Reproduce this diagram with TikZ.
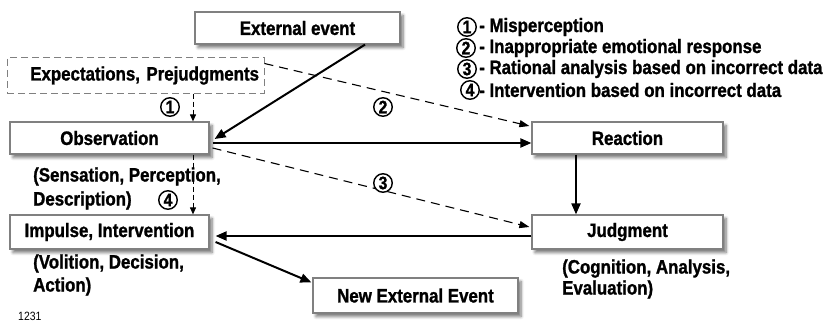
\documentclass[tikz,border=0pt]{standalone}
\usepackage{fontspec}
\setmainfont{Liberation Sans}[FakeStretch=0.87, BoldFeatures={FakeBold=1.2}]
\usetikzlibrary{arrows.meta,shadows.blur}
\definecolor{bordergray}{RGB}{128,128,128}
\begin{document}
\begin{tikzpicture}[x=1pt,y=-1pt,
  box/.style={draw=bordergray, line width=1.2pt, fill=white, inner sep=0pt,
    blur shadow={shadow xshift=3pt, shadow yshift=-3.5pt, shadow blur radius=3pt, shadow blur steps=6, shadow opacity=55},
    font=\fontsize{19.4}{22}\selectfont\bfseries},
  dashbox/.style={draw=bordergray, line width=1pt, dash pattern=on 7pt off 4pt, inner sep=5pt,
    font=\fontsize{19.4}{22}\selectfont\bfseries},
  lbl/.style={font=\fontsize{19.4}{22}\selectfont\bfseries, inner sep=0pt, align=left},
  circnum/.style={circle, draw, line width=1.4pt, inner sep=0pt, minimum size=18.5pt,
    font=\fontsize{18}{18}\selectfont\bfseries},
  solidarrow/.style={line width=2pt, -{Triangle[length=11pt,width=9pt]}},
  dasharrow/.style={line width=1.1pt, dash pattern=on 9pt off 6pt, -{Triangle[length=10pt,width=7pt]}},
  smallarrow/.style={line width=1pt, dash pattern=on 5pt off 3pt, -{Triangle[length=7pt,width=6pt]}}
]
\useasboundingbox (0,0) rectangle (827,321);

% boxes
\node[box, minimum width=205pt, minimum height=32pt] (ext) at (297.5,28) {External event};
\node[dashbox, minimum width=257pt, minimum height=35pt, text width=247pt, align=right] (exp) at (135.5,75.5) {Expectations, Prejudgments};
\node[box, minimum width=199pt, minimum height=32pt] (obs) at (109.5,138) {Observation};
\node[box, minimum width=191pt, minimum height=32pt] (react) at (627.5,138) {Reaction};
\node[box, minimum width=191pt, minimum height=34pt] (judg) at (627.5,232) {Judgment};
\node[box, minimum width=199pt, minimum height=34pt] (imp) at (109.5,232) {Impulse, Intervention};
\node[box, minimum width=205pt, minimum height=35pt] (newext) at (415.5,295.5) {New External Event};

% side texts
\node[lbl, anchor=west, font=\fontsize{19.4}{24}\selectfont\bfseries] (sens) at (33,188.5) {(Sensation, Perception,\\Description)};
\node[lbl, anchor=west, font=\fontsize{19.4}{23}\selectfont\bfseries] (vol) at (33,275) {(Volition, Decision,\\Action)};
\node[lbl, anchor=west, font=\fontsize{19.4}{21}\selectfont\bfseries] (cog) at (562,279) {(Cognition, Analysis,\\Evaluation)};
\node[inner sep=0pt, anchor=west, font=\fontsize{12}{12}\selectfont] (num) at (18,316) {1231};

% connectors
\draw[solidarrow] ([xshift=67.5pt]ext.south) -- ([xshift=5pt,yshift=-1pt]obs.east);
\draw[smallarrow] ([xshift=57.5pt]exp.south) -- ([xshift=83.5pt]obs.north);
\draw[solidarrow] ([xshift=3pt,yshift=-5pt]obs.east) -- ([yshift=-5pt]react.west);
\draw[dasharrow] ([yshift=-6pt]exp.north east) -- ([xshift=-2pt,yshift=12pt]react.west);
\draw[dasharrow] ([xshift=3pt,yshift=-10pt]obs.east) -- ([xshift=-2pt,yshift=5pt]judg.west);
\draw[solidarrow] ([xshift=-51.5pt]react.south) -- ([xshift=-51.5pt]judg.north);
\draw[solidarrow] ([yshift=-4pt]judg.west) -- ([xshift=6pt,yshift=-4pt]imp.east);
\draw[solidarrow] ([xshift=6pt,yshift=-10pt]imp.east) -- ([xshift=-1pt,yshift=-5pt]newext.north west);
\draw[smallarrow] ([xshift=83.5pt]obs.south) -- ([xshift=83.5pt]imp.north);

% numbered markers
\node[circnum] (c1) at (170,107) {1};
\node[circnum] (c2) at (383,107) {2};
\node[circnum, fill=white] (c3) at (383,183) {3};
\node[circnum] (c4) at (168,200) {4};

% legend
\node[circnum] (l1) at (467,27) {1};
\node[circnum] (l2) at (466,48) {2};
\node[circnum] (l3) at (467,69) {3};
\node[circnum] (l4) at (470,90) {4};
\node[lbl, anchor=west] (t1) at (479,27) {- Misperception};
\node[lbl, anchor=west] (t2) at (479,48) {- Inappropriate emotional response};
\node[lbl, anchor=west] (t3) at (479,69) {- Rational analysis based on incorrect data};
\node[lbl, anchor=west] (t4) at (479,90) {- Intervention based on incorrect data};
\end{tikzpicture}
\end{document}
